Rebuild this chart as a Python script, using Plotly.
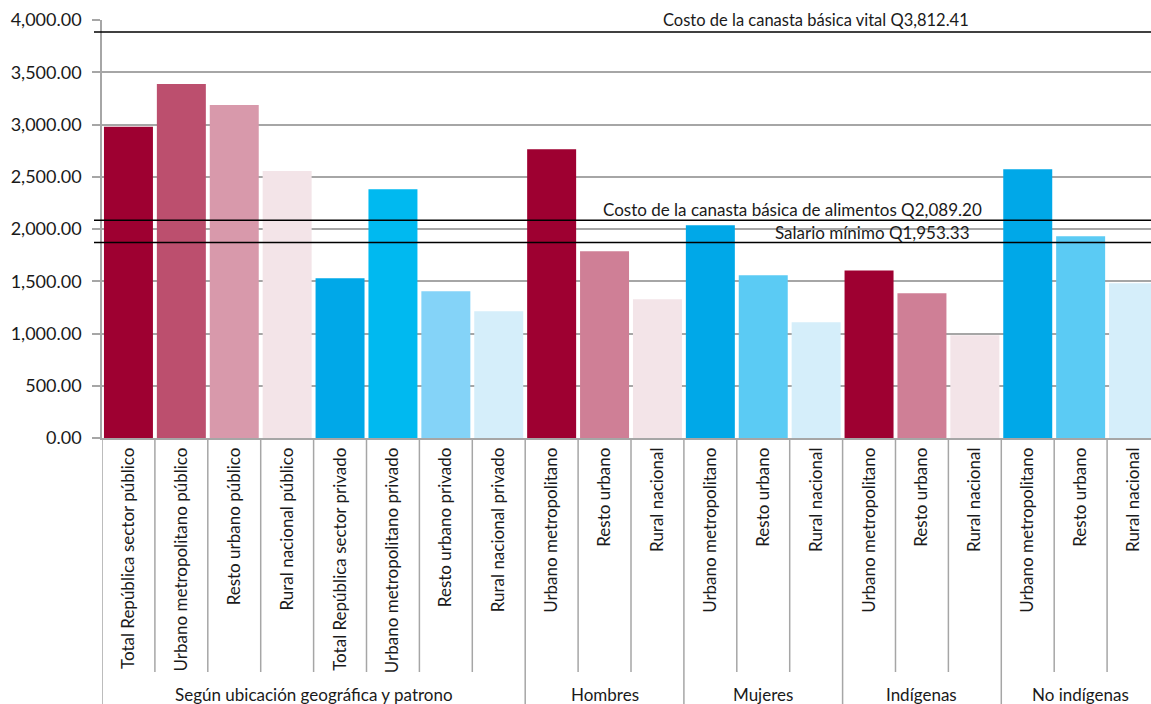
import plotly.graph_objects as go

categories = [
    "Total República sector público", "Urbano metropolitano público", "Resto urbano público",
    "Rural nacional público", "Total República sector privado", "Urbano metropolitano privado",
    "Resto urbano privado", "Rural nacional privado",
    "Urbano metropolitano", "Resto urbano", "Rural nacional",
    "Urbano metropolitano", "Resto urbano", "Rural nacional",
    "Urbano metropolitano", "Resto urbano", "Rural nacional",
    "Urbano metropolitano", "Resto urbano", "Rural nacional",
]
values = [2978, 3387, 3187, 2554, 1529, 2381, 1405, 1213,
          2764, 1788, 1328,
          2037, 1558, 1108,
          1604, 1385, 983,
          2572, 1931, 1481]
colors = ["#9e0031", "#bc4f6e", "#d899ab", "#f3e4e8", "#00a8e8", "#00b9f0", "#84d3f8", "#d5eefa",
          "#9e0031", "#cf7f96", "#f3e4e8",
          "#00a8e8", "#5bcbf4", "#d5eefa",
          "#9e0031", "#cf7f96", "#f3e4e8",
          "#00a8e8", "#5bcbf4", "#d5eefa"]
groups = ["Según ubicación geográfica y patrono", "Hombres", "Mujeres", "Indígenas", "No indígenas"]
group_sizes = [8, 3, 3, 3, 3]

ref_labels = ["Costo de la canasta básica vital Q3,812.41",
              "Costo de la canasta básica de alimentos Q2,089.20",
              "Salario mínimo Q1,953.33"]
ref_levels = [3885, 2084, 1870]          # line positions as drawn in the picture
ref_label_x = [13.0, 12.55, 14.07]       # label centres (category units)
ref_label_y = [4000, 2190, 1970]

y_ticks = [0, 500, 1000, 1500, 2000, 2500, 3000, 3500, 4000]

FONT = "Lato"
TXT = "#1a1a1a"
GRID = "#a6a6a6"

x = list(range(len(values)))
fig = go.Figure(go.Bar(x=x, y=values, marker=dict(color=colors, line=dict(width=0)),
                       hoverinfo="skip"))

shapes = []
H = 418.0
starts = [0]
for s in group_sizes:
    starts.append(starts[-1] + s)
group_bounds = set(starts[:-1])
for i in range(len(values)):
    long_line = i in group_bounds
    shapes.append(dict(type="line", xref="x", yref="paper", x0=i - 0.5, x1=i - 0.5,
                       y0=0, y1=(-270 if long_line else -234) / H,
                       line=dict(color=GRID, width=1.5)))
for lv in ref_levels:
    shapes.append(dict(type="line", xref="paper", yref="y", x0=-8 / 1049, x1=1,
                       y0=lv, y1=lv, line=dict(color="#000000", width=1.5)))

annotations = []
for i, (lab, lx, ly) in enumerate(zip(ref_labels, ref_label_x, ref_label_y)):
    annotations.append(dict(text=lab, x=lx, y=ly, xref="x", yref="y", showarrow=False,
                            yanchor="middle",
                            font=dict(family=FONT, size=16.5 if i == 0 else 17, color=TXT)))
for g, s, n in zip(groups, starts[:-1], group_sizes):
    annotations.append(dict(text=g, x=s + (n - 1) / 2, y=-256 / H, xref="x", yref="paper",
                            showarrow=False, yanchor="middle",
                            font=dict(family=FONT, size=17, color=TXT)))

fig.update_layout(
    width=1151, height=704,
    margin=dict(l=102, r=0, t=20, b=266, pad=0),
    plot_bgcolor="white", paper_bgcolor="white",
    bargap=0.074, showlegend=False,
    shapes=shapes, annotations=annotations,
    font=dict(family=FONT, color=TXT),
)
fig.update_xaxes(range=[-0.5, 19.33], tickmode="array", tickvals=x, ticktext=categories,
                 tickangle=-90, tickfont=dict(family=FONT, size=17, color=TXT),
                 showgrid=False, showline=True, linecolor=GRID, linewidth=1.5,
                 ticks="", zeroline=False, ticklabelstandoff=1, automargin=False)
fig.update_yaxes(range=[0, 4000], tickmode="array", tickvals=y_ticks,
                 ticktext=[f"{v:,.2f}" for v in y_ticks],
                 tickfont=dict(family=FONT, size=18, color=TXT),
                 showgrid=True, gridcolor=GRID, gridwidth=1.5,
                 showline=True, linecolor=GRID, linewidth=1.5,
                 ticks="outside", ticklen=8, tickcolor=GRID, tickwidth=1.5,
                 zeroline=False, ticklabelstandoff=7, automargin=False)

fig.write_html("out.html", config={"displayModeBar": False},
               post_script="document.body.style.margin='0';document.body.style.overflow='hidden';")
